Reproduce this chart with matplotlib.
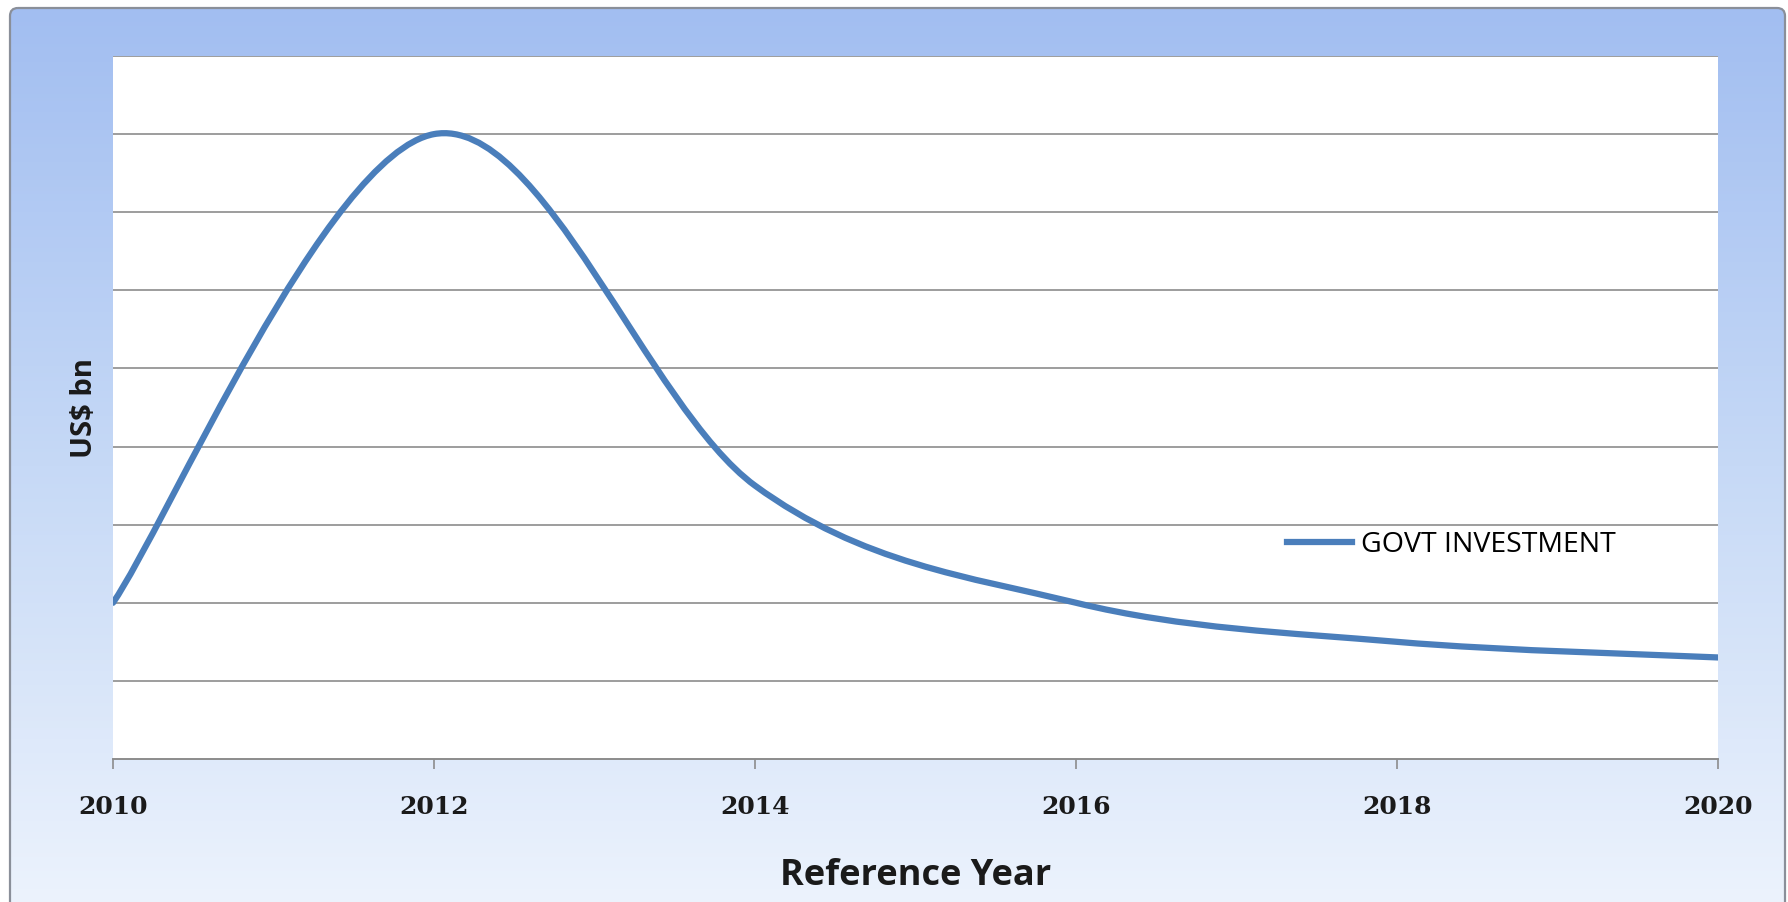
import numpy as np
import matplotlib.pyplot as plt
from matplotlib.path import Path
from matplotlib.patches import PathPatch, FancyBboxPatch
from matplotlib.lines import Line2D
from matplotlib.colors import LinearSegmentedColormap

# government investment, US$ bn, every second year
years = [2010, 2012, 2014, 2016, 2018, 2020]
investment = [2.0, 8.0, 3.5, 2.0, 1.5, 1.3]
series_name = 'GOVT INVESTMENT'

LINE_BLUE = '#4a7ebb'
GRID_GREY = '#8c8c8c'
W, H = 1788, 902


def smooth_path(xs, ys):
    # spreadsheet-style smoothed line: one cubic Bezier per segment
    n = len(xs)
    pts = np.column_stack([xs, ys]).astype(float)
    verts = [pts[0]]
    codes = [Path.MOVETO]
    for i in range(n - 1):
        p_prev = pts[max(i - 1, 0)]
        p0 = pts[i]
        p1 = pts[i + 1]
        p_next = pts[min(i + 2, n - 1)]
        c1 = p0 + (p1 - p_prev) / 6.0
        c2 = p1 - (p_next - p0) / 6.0
        verts += [c1, c2, p1]
        codes += [Path.CURVE4] * 3
    return Path(verts, codes)


fig = plt.figure(figsize=(W / 100, H / 100), dpi=100)

# chart area background: rounded frame with a blue vertical gradient
bg = fig.add_axes([0, 0, 1, 1], zorder=0)
bg.set_xlim(0, W)
bg.set_ylim(H, 0)
bg.axis('off')
grad_cmap = LinearSegmentedColormap.from_list('bg', ['#a2bef1', '#c6d9f6', '#eef4fd'])
grad = np.linspace(0, 1, 256).reshape(-1, 1)
img = bg.imshow(grad, cmap=grad_cmap, extent=[10, 1785, 925, 8], aspect='auto')
frame = FancyBboxPatch((10, 8), 1775, 940, boxstyle='round,pad=0,rounding_size=8',
                       facecolor='none', edgecolor='#8a8f99', linewidth=1.6)
bg.add_patch(frame)
img.set_clip_path(frame)

left, right = 113 / W, 1718 / W
bottom, top = 1 - 759 / H, 1 - 56 / H
ax = fig.add_axes([left, bottom, right - left, top - bottom], zorder=1)
ax.set_facecolor('white')

ax.set_xlim(years[0], years[-1])
ax.set_ylim(0, 9)
ax.set_yticks(np.arange(1, 10))
ax.yaxis.grid(True, color=GRID_GREY, linewidth=1.2)
ax.set_axisbelow(True)
ax.tick_params(axis='y', left=False, labelleft=False)

ax.set_xticks(years)
ax.set_xticklabels([str(y) for y in years], fontfamily='DejaVu Serif',
                   fontweight='bold', fontsize=18, color='#1a1a1a')
ax.tick_params(axis='x', direction='out', length=7, width=1.2, color=GRID_GREY, pad=19)

for side in ('left', 'right', 'top'):
    ax.spines[side].set_visible(False)
ax.spines['bottom'].set_color(GRID_GREY)
ax.spines['bottom'].set_linewidth(1.4)

curve = PathPatch(smooth_path(years, investment), facecolor='none',
                  edgecolor=LINE_BLUE, linewidth=4.5, capstyle='round', zorder=3)
ax.add_patch(curve)

ax.set_xlabel('Reference Year', fontfamily='Open Sans', fontweight='bold', fontsize=26,
              color='#1a1a1a', labelpad=28)
ax.set_ylabel('US$ bn', fontfamily='Open Sans', fontweight='bold', fontsize=21,
              color='#1a1a1a', labelpad=10)

handle = Line2D([], [], color=LINE_BLUE, linewidth=4.5)
ax.legend([handle], [series_name], loc='center left', frameon=False,
          bbox_to_anchor=(1287 / W, 1 - 545 / H), bbox_transform=fig.transFigure,
          borderpad=0, borderaxespad=0, handlelength=2.3, handletextpad=0.3,
          prop={'family': 'Open Sans', 'size': 20.5})

fig.savefig('out.png', dpi=100)
